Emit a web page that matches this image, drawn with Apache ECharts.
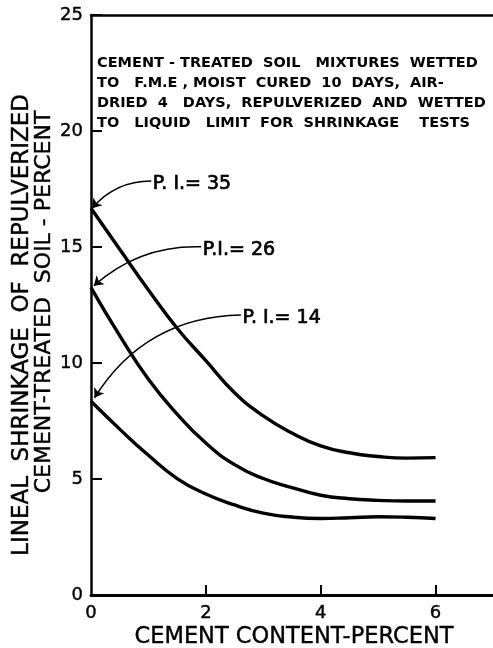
<!DOCTYPE html>
<html>
<head>
<meta charset="utf-8">
<script src="https://cdn.jsdelivr.net/npm/echarts@6/dist/echarts.min.js"></script>
<style>html,body{margin:0;padding:0;background:#fff}#c{width:493px;height:648px}</style>
</head>
<body>
<div id="c"></div>
<script>
const cementPct = [0, 0.5, 1, 1.5, 2, 2.5, 3, 3.5, 4, 4.5, 5, 5.5, 6];
const shrinkPI35 = [16.67, 14.9, 13.15, 11.5, 10.1, 8.72, 7.72, 6.98, 6.43, 6.13, 5.97, 5.9, 5.92];
const shrinkPI26 = [13.25, 11.18, 9.3, 7.8, 6.55, 5.62, 5.02, 4.63, 4.3, 4.15, 4.08, 4.05, 4.05];
const shrinkPI14 = [8.35, 7.15, 6.02, 5.02, 4.35, 3.88, 3.53, 3.36, 3.3, 3.33, 3.37, 3.35, 3.3];
const xTickLabels = [0, 2, 4, 6];
const yTickLabels = [0, 5, 10, 15, 20, 25];
const piNames = ['P. I.= 35', 'P.I.= 26', 'P. I.= 14'];
const noteLines = [
  'CEMENT - TREATED  SOIL   MIXTURES  WETTED',
  'TO   F.M.E , MOIST  CURED  10  DAYS,  AIR-',
  'DRIED  4   DAYS,  REPULVERIZED  AND  WETTED',
  'TO   LIQUID   LIMIT  FOR  SHRINKAGE    TESTS'
];

const pair = (xs, ys) => xs.map((x, i) => [x, ys[i]]);
const FONT = 'DejaVu Sans';

// annotation anchors (data coords): label start -> curve start
const arrows = [
  { from: [1.05, 17.84], to: [0.02, shrinkPI35[0]], curv: -0.23, name: piNames[0] },
  { from: [1.92, 15.01], to: [0.05, shrinkPI26[0] + 0.08], curv: -0.2, name: piNames[1] },
  { from: [2.61, 12.07], to: [0.06, shrinkPI14[0] + 0.15], curv: -0.27, name: piNames[2] }
];

const chart = echarts.init(document.getElementById('c'));
const curveSeries = [shrinkPI35, shrinkPI26, shrinkPI14].map(ys => ({
  type: 'line', data: pair(cementPct, ys), smooth: 0.5, symbol: 'none',
  lineStyle: { color: '#000', width: 3.4 }, z: 3, silent: true
}));

const arrowSeries = arrows.map(a => ({
  type: 'lines', coordinateSystem: 'cartesian2d', silent: true,
  symbol: ['none', 'arrow'], symbolSize: 9,
  lineStyle: { color: '#000', width: 1.5, curveness: a.curv, opacity: 1 },
  data: [{ coords: [a.from, a.to] }], z: 4
}));

const labelSeries = arrows.map(a => ({
  type: 'scatter', data: [a.from], symbolSize: 1, silent: true,
  itemStyle: { opacity: 0 },
  label: { show: true, position: 'right', distance: 1, offset: [0, 3], formatter: a.name,
    color: '#000', opacity: 1, fontFamily: FONT, fontSize: 19,
    textBorderColor: '#000', textBorderWidth: 0.7 }
}));

chart.setOption({
  animation: false,
  backgroundColor: '#fff',
  grid: { left: 91, right: 0, top: 15, bottom: 53 },
  xAxis: [{
    type: 'value', min: 0, max: 7, interval: 1,
    axisLine: { show: true, lineStyle: { color: '#000', width: 3 } },
    axisTick: { show: true, inside: true, length: 10, customValues: xTickLabels.slice(1), lineStyle: { color: '#000', width: 2 } },
    axisLabel: { customValues: xTickLabels, margin: 9, color: '#000', fontFamily: FONT, fontSize: 18, textBorderColor: '#000', textBorderWidth: 0.4 },
    splitLine: { show: false }
  }, {
    type: 'value', min: 0, max: 7, position: 'top',
    axisLine: { show: true, lineStyle: { color: '#000', width: 2.5 } },
    axisTick: { show: false }, axisLabel: { show: false }, splitLine: { show: false }
  }],
  yAxis: {
    type: 'value', min: 0, max: 25, interval: 5,
    axisLine: { show: true, onZero: false, lineStyle: { color: '#000', width: 2.5 } },
    axisTick: { show: true, inside: true, length: 11, lineStyle: { color: '#000', width: 2 } },
    axisLabel: { margin: 8, color: '#000', fontFamily: FONT, fontSize: 18, textBorderColor: '#000', textBorderWidth: 0.4 },
    splitLine: { show: false }
  },
  graphic: [
    { type: 'text', x: 294, y: 637, style: { text: 'CEMENT CONTENT-PERCENT', font: '22.5px "DejaVu Sans"', fill: '#000', stroke: '#000', lineWidth: 0.4, align: 'center', verticalAlign: 'middle' } },
    { type: 'text', x: 22, y: 325, rotation: Math.PI / 2, style: { text: 'LINEAL  SHRINKAGE  OF  REPULVERIZED', font: '23px "DejaVu Sans"', fill: '#000', stroke: '#000', lineWidth: 0.4, align: 'center', verticalAlign: 'middle' } },
    { type: 'text', x: 44, y: 302, rotation: Math.PI / 2, style: { text: 'CEMENT-TREATED  SOIL - PERCENT', font: '22px "DejaVu Sans"', fill: '#000', stroke: '#000', lineWidth: 0.4, align: 'center', verticalAlign: 'middle' } }
  ].concat(noteLines.map((t, i) => ({
    type: 'text', x: 97, y: 63 + i * 20,
    style: { text: t, font: 'bold 14.5px "DejaVu Sans"', fill: '#000', align: 'left', verticalAlign: 'middle' }
  }))),
  series: curveSeries.concat(arrowSeries, labelSeries)
});
</script>
</body>
</html>
